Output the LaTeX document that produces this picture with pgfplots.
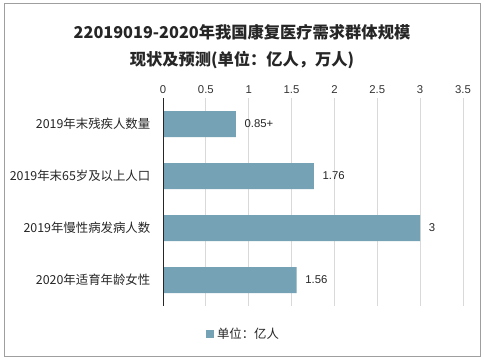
\documentclass[border=0pt]{standalone}
\usepackage{pgfplots}
\pgfplotsset{compat=1.18}
\usepackage{pgfplotstable}
\usepackage{fontspec}
\setmainfont{Noto Sans CJK SC}
\newfontfamily\numfont{Liberation Sans}
\definecolor{barc}{RGB}{118,162,181}
\pgfplotstableread{
c v lab
0 0.85 0.85+
1 1.76 1.76
2 3 3
3 1.56 1.56
}\mydata
\begin{document}
\begin{tikzpicture}[x=0.75pt,y=0.75pt]
\useasboundingbox (0,0) rectangle (484,360);
\draw[gray!75, line width=0.75pt] (4,4) rectangle (480,356);
\node[font=\fontsize{12.2}{14}\selectfont\bfseries, text=black!85] at (242,328) {22019019-2020年我国康复医疗需求群体规模};
\node[font=\fontsize{12.2}{14}\selectfont\bfseries, text=black!85] at (242,300) {现状及预测(单位：亿人，万人)};
\begin{axis}[
  at={(122.25pt,40.5pt)}, anchor=south west,
  scale only axis, width=225pt, height=156pt,
  xbar, bar width=19.5pt,
  xmin=0, xmax=3.5, ymin=-0.5, ymax=3.5,
  y dir=reverse,
  xtick={0,0.5,1,1.5,2,2.5,3,3.5},
  ytick={0,1,2,3},
  yticklabels={2019年末残疾人数量,2019年末65岁及以上人口,2019年慢性病发病人数,2020年适育年龄女性},
  xticklabel pos=upper,
  axis line style={draw=none},
  major tick length=0pt,
  xmajorgrids, grid style={gray!30, line width=0.6pt},
  /pgf/number format/assume math mode=true,
  xticklabel style={font=\numfont\fontsize{8.5}{10}\selectfont, text=black!80},
  yticklabel style={font=\fontsize{9.3}{10}\selectfont, text=black!85, xshift=-6pt},
  point meta=explicit symbolic,
  nodes near coords,
  nodes near coords style={font=\numfont\fontsize{8.5}{10}\selectfont, text=black!85, anchor=west, xshift=3pt},
  legend style={at={(0.27,-0.135)}, anchor=center, draw=none, fill=none, font=\fontsize{9.3}{10}\selectfont, text=black!85},
  legend image code/.code={\fill[barc] (0pt,-3pt) rectangle (6pt,3pt);},
]
\addplot[fill=barc, draw=none] table[x=v, y=c, meta=lab] {\mydata};
\addlegendentry{单位：亿人}
\draw[black!85, line width=0.75pt] (axis cs:0,-0.5) -- (axis cs:0,3.5);
\end{axis}
\end{tikzpicture}
\end{document}
